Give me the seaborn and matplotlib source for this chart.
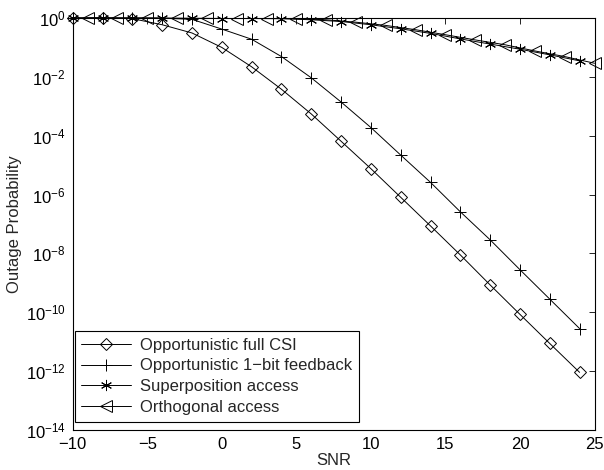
import numpy as np
import pandas as pd
import matplotlib
matplotlib.use("Agg")
import matplotlib.pyplot as plt
import seaborn as sns

# ---- data ----
snr_even = [-10, -8, -6, -4, -2, 0, 2, 4, 6, 8, 10, 12, 14, 16, 18, 20, 22, 24]
snr_odd = [-9, -7, -5, -3, -1, 1, 3, 5, 7, 9, 11, 13, 15, 17, 19, 21, 23, 25]

full_csi = [1.0, 0.995, 0.95, 0.59, 0.31, 0.10, 2.2e-2, 3.8e-3, 5.5e-4, 6.5e-5,
            7.6e-6, 8.1e-7, 8.6e-8, 8.9e-9, 8.5e-10, 8.5e-11, 8.7e-12, 9.1e-13]
one_bit = [1.0, 1.0, 1.0, 0.99, 0.90, 0.42, 0.19, 4.9e-2, 9.3e-3, 1.4e-3,
           1.9e-4, 2.2e-5, 2.6e-6, 2.6e-7, 2.9e-8, 2.8e-9, 2.8e-10, 2.8e-11]
superposition = [1.0, 0.995, 0.99, 0.98, 0.97, 0.96, 0.96, 0.95, 0.87, 0.76,
                 0.59, 0.43, 0.30, 0.195, 0.13, 8.7e-2, 5.6e-2, 3.5e-2]
orthogonal = [1.0, 0.995, 0.99, 0.98, 0.97, 0.96, 0.96, 0.95, 0.87, 0.72,
              0.56, 0.40, 0.27, 0.18, 0.123, 7.6e-2, 4.9e-2, 2.9e-2]

labels = ["Opportunistic full CSI", "Opportunistic 1\u2212bit feedback",
          "Superposition access", "Orthogonal access"]
xticks = [-10, -5, 0, 5, 10, 15, 20, 25]
yticks = [1e0, 1e-2, 1e-4, 1e-6, 1e-8, 1e-10, 1e-12, 1e-14]

# ---- style ----
sns.set_style("white")
plt.rcParams["font.family"] = ["Liberation Sans", "DejaVu Sans"]
plt.rcParams["mathtext.fontset"] = "custom"
plt.rcParams["mathtext.rm"] = "Liberation Sans"
plt.rcParams["mathtext.it"] = "Liberation Sans:italic"
plt.rcParams["mathtext.bf"] = "Liberation Sans:bold"
plt.rcParams["font.size"] = 12

fig = plt.figure(figsize=(6.04, 4.70), dpi=100)
ax = fig.add_axes([72.7 / 604, 1 - 430 / 470, (594.5 - 72.7) / 604, (430 - 18) / 470])

series = [
    (snr_even, full_csi, labels[0], "D", 6.5),
    (snr_even, one_bit, labels[1], "+", 8.0),
    (snr_even, superposition, labels[2], (6, 2, 0), 8.0),
    (snr_odd, orthogonal, labels[3], "<", 8.0),
]
for xs, ys, lab, mk, ms in series:
    df = pd.DataFrame({"SNR": xs, "P": ys})
    sns.lineplot(data=df, x="SNR", y="P", ax=ax, color="black", lw=0.7,
                 marker=mk, ms=ms, mfc="none", mec="black", mew=0.7,
                 label=lab, clip_on=False, zorder=3)

ax.set_yscale("log")
ax.set_xlim(-10, 25)
ax.set_ylim(1e-14, 1e0)
ax.set_xticks(xticks)
ax.set_yticks(yticks)
ax.minorticks_off()
ax.yaxis.set_minor_locator(matplotlib.ticker.NullLocator())
ax.tick_params(direction="in", length=4, width=0.6, top=True, right=True,
               labelsize=12, colors="black", pad=5)
for s in ax.spines.values():
    s.set_linewidth(0.8)
    s.set_color("black")

ax.set_xlabel("SNR", fontsize=12, labelpad=1)
ax.set_ylabel("Outage Probability", fontsize=12, labelpad=3)

leg = ax.legend(loc="lower left", bbox_to_anchor=(0.004, 0.02), borderaxespad=0,
                fancybox=False, frameon=True, edgecolor="black", fontsize=12,
                handlelength=3.0, handletextpad=0.5, labelspacing=0.35,
                borderpad=0.4)
leg.get_frame().set_linewidth(0.8)
leg.get_frame().set_alpha(1)

fig.savefig("out.png", dpi=100)
